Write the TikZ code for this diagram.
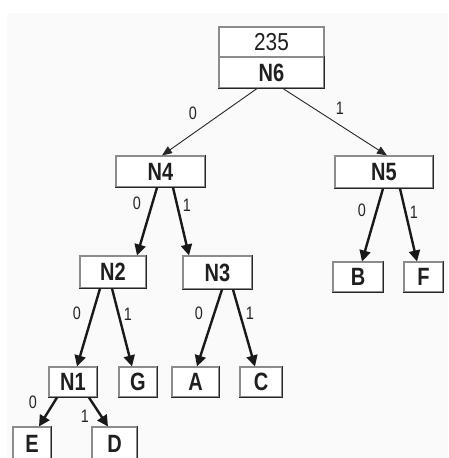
\documentclass[tikz,border=0pt]{standalone}
\usepackage{fontspec}
\setmainfont[FakeStretch=0.8]{Liberation Sans}
\newfontfamily\valfont[FakeStretch=0.85]{Liberation Sans}
\usetikzlibrary{arrows.meta}

\tikzset{
  box/.style={draw=black!45, line width=1.1pt, fill=white, inner sep=0pt,
    font=\fontsize{25}{25}\selectfont\bfseries, text=black!88},
  valbox/.style={box, font=\valfont\fontsize{24.5}{24.5}\selectfont},
  bit/.style={font=\fontsize{18}{18}\selectfont, text=black!85, inner sep=0pt},
  thinedge/.style={draw=black!85, line width=0.9pt,
    -{Triangle[length=10pt,width=8pt]}},
  thickedge/.style={draw=black!90, line width=2.4pt,
    -{Triangle[length=11pt,width=11pt]}},
  rim/.style={draw=black!85, line width=1.3pt}
}

\begin{document}
\begin{tikzpicture}[x=1pt, y=-1pt]
\useasboundingbox (0,0) rectangle (448,458);
\clip (0,0) rectangle (448,458);
\fill[black!2] (7,13) rectangle (448,458);

% boxes: value box and tree nodes
\node[valbox, minimum width=105pt, minimum height=30pt] (val) at (271.5,42) {235};
\node[box, minimum width=105pt, minimum height=31pt] (N6) at (271.5,72.5) {N6};
\node[box, minimum width=89pt, minimum height=31pt] (N4) at (160.5,171.5) {N4};
\node[box, minimum width=98pt, minimum height=32pt] (N5) at (384,172) {N5};
\node[box, minimum width=66pt, minimum height=32pt] (N2) at (113,272) {N2};
\node[box, minimum width=69pt, minimum height=33pt] (N3) at (217.5,272.5) {N3};
\node[box, minimum width=50pt, minimum height=30pt] (B) at (358,277) {B};
\node[box, minimum width=39pt, minimum height=30pt] (F) at (423.5,277) {F};
\node[box, minimum width=48pt, minimum height=30pt] (N1) at (73,382) {N1};
\node[box, minimum width=38pt, minimum height=30pt] (G) at (138,382) {G};
\node[box, minimum width=47pt, minimum height=30pt] (A) at (195.5,382) {A};
\node[box, minimum width=42pt, minimum height=30pt] (C) at (261,382) {C};
\node[box, minimum width=38pt, minimum height=34pt] (E) at (32,444) {E};
\node[box, minimum width=45pt, minimum height=34pt] (D) at (114.5,444) {D};

% darker lower and right rims
\foreach \n in {N6,N4,N5,N2,N3,B,F,N1,G,A,C,E,D}
  \draw[rim] (\n.south west) -- (\n.south east) -- (\n.north east);

% edges from the root (thin)
\draw[thinedge] ([xshift=-14.5pt]N6.south) -- ([xshift=1.5pt]N4.north);
\draw[thinedge] ([xshift=11.5pt]N6.south) -- ([xshift=3pt]N5.north);

% inner edges (thick)
\draw[thickedge] ([xshift=-3.5pt]N4.south) -- ([xshift=24pt]N2.north);
\draw[thickedge] ([xshift=12.5pt]N4.south) -- ([xshift=-28.5pt]N3.north);
\draw[thickedge] ([xshift=-1pt]N5.south) -- ([xshift=4pt]B.north);
\draw[thickedge] ([xshift=16pt]N5.south) -- ([xshift=-6.5pt]F.north);
\draw[thickedge] ([xshift=-13pt]N2.south) -- ([xshift=4pt]N1.north);
\draw[thickedge] ([xshift=-1pt]N2.south) -- ([xshift=-6pt]G.north);
\draw[thickedge] ([xshift=4.5pt]N3.south) -- ([xshift=1.5pt]A.north);
\draw[thickedge] ([xshift=15.5pt]N3.south) -- ([xshift=-6pt]C.north);
\draw[thickedge] ([xshift=-16pt]N1.south) -- ([xshift=7pt]E.north);
\draw[thickedge] ([xshift=16pt]N1.south) -- ([xshift=-6.5pt]D.north);

% branch labels
\node[bit] (l60) at (193,113) {0};
\node[bit] (l61) at (340,108) {1};
\node[bit] (l40) at (137,203) {0};
\node[bit] (l41) at (187,205) {1};
\node[bit] (l50) at (362,210) {0};
\node[bit] (l51) at (414,212) {1};
\node[bit] (l20) at (77,313) {0};
\node[bit] (l21) at (128,314) {1};
\node[bit] (l30) at (199,313) {0};
\node[bit] (l31) at (250,313) {1};
\node[bit] (l10) at (33,402) {0};
\node[bit] (l11) at (85,416) {1};
\end{tikzpicture}
\end{document}
